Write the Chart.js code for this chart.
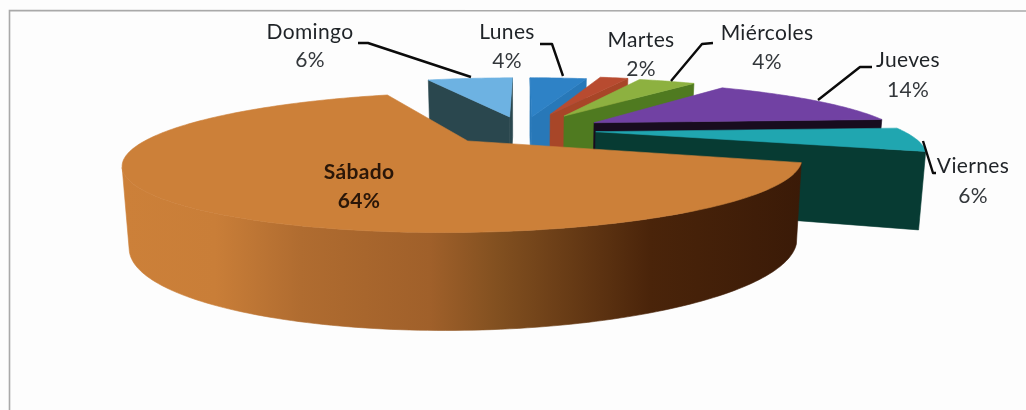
<!DOCTYPE html>
<html><head><meta charset="utf-8">
<script src="https://cdn.jsdelivr.net/npm/chart.js@4"></script>
<style>html,body{margin:0;padding:0;background:#fff}canvas{display:block;filter:blur(0.4px)}</style>
</head><body><canvas id="c" width="1026" height="410"></canvas>
<script>
const categories = ['Lunes','Martes','Miércoles','Jueves','Viernes','Sábado','Domingo'];
const percentages = [4,2,4,14,6,64,6];

const topColors  = ['#2E82C6','#B84B30','#8DB140','#7141A3','#20A6B0','#CC8039','#6DB2E2'];
const wallColors = ['#2878B8','#A84628','#4F7A20','#180C1E','#073B33','#000000','#2A474E'];
const explode = [40,50,48,44,38,40,40];
const sabadoWallStops = [[0,'#CC8039'],[0.134,'#C97E38'],[0.26,'#B06C30'],[0.45,'#A0602A'],[0.55,'#825020'],[0.775,'#4A240A'],[1,'#3A1A07']];
// painter's order, far to near
const drawOrder = [6,0,1,2,3,4,5];

const labelPos = [[507,32,61],[641,40,69],[767,33,62],[908,60,90],[973,166,196],[359,172,201],[310,32,60]];
const leaders = [
 [[540,44],[552,44],[563,76]],
 [[713,43],[702,44],[671,81]],
 [[872,67],[860,67],[818,100]],
 [[923,141],[933,173],[936,173]],
 [[358,43],[368,43],[471,77]]
];
const cam = {x0:523,y0:130,sx:306,sy:57,k:0.29,depth:73,depthPow:0.7,shrink:0.018};

function project(x,y,z){
  const w=1+cam.k*y, wx=w*(1+cam.shrink*z);
  return [cam.x0+cam.sx*x/wx, cam.y0-cam.sy*y/w+cam.depth*z/Math.pow(w,cam.depthPow)];
}
function polygon(ctx,pts){
  ctx.beginPath();
  pts.forEach((p,i)=>i?ctx.lineTo(p[0],p[1]):ctx.moveTo(p[0],p[1]));
  ctx.closePath();
}
function area(q){
  let s=0;
  for(let i=0;i<q.length;i++){const a=q[i],b=q[(i+1)%q.length];s+=a[0]*b[1]-b[0]*a[1];}
  return s;
}
function paintSlice(ctx,el,i){
  const R=el.outerRadius, off=el.options.offset/R, s=el.startAngle, e=el.endAngle, mid=(s+e)/2;
  const ox=Math.cos(mid)*off, oy=-Math.sin(mid)*off;
  const n=Math.max(4,Math.ceil((e-s)/0.02));
  const world=[];
  for(let j=0;j<=n;j++){const a=s+(e-s)*j/n;world.push([ox+Math.cos(a),oy-Math.sin(a)]);}
  const top=world.map(p=>project(p[0],p[1],0));
  const bot=world.map(p=>project(p[0],p[1],1));
  const apexT=project(ox,oy,0), apexB=project(ox,oy,1);
  let wallFill=wallColors[i];
  if(categories[i]==='Sábado'){
    const g=ctx.createLinearGradient(124,0,803,0);
    sabadoWallStops.forEach(t=>g.addColorStop(t[0],t[1]));
    wallFill=g;
  }
  ctx.fillStyle=wallFill; ctx.strokeStyle=wallFill; ctx.lineWidth=0.6; ctx.lineJoin='round';
  const f1=[apexT,top[0],bot[0],apexB], f2=[top[n],apexT,apexB,bot[n]];
  [f1,f2].forEach(q=>{ if(area(q)<0){polygon(ctx,q);ctx.fill();ctx.stroke();} });
  let run=null;
  const flush=()=>{ if(run){const pts=[];for(let j=run[0];j<=run[1];j++)pts.push(top[j]);for(let j=run[1];j>=run[0];j--)pts.push(bot[j]);polygon(ctx,pts);ctx.fill();ctx.stroke();run=null;} };
  for(let j=0;j<n;j++){
    const vis=area([top[j],top[j+1],bot[j+1],bot[j]])<0;
    if(vis){ if(run) run[1]=j+1; else run=[j,j+1]; } else flush();
  }
  flush();
  ctx.fillStyle=el.options.backgroundColor; ctx.strokeStyle=el.options.backgroundColor;
  polygon(ctx,[apexT].concat(top)); ctx.fill(); ctx.stroke();
}

const pie3d={
  id:'pie3d',
  beforeDraw(chart){
    const ctx=chart.ctx;
    ctx.save();
    ctx.fillStyle='#fdfdfd';ctx.fillRect(0,0,1026,410);
    ctx.strokeStyle='#a9a9a9';ctx.lineWidth=1.6;
    ctx.beginPath();ctx.moveTo(9.5,410);ctx.lineTo(9.5,10.5);ctx.lineTo(1026,11);ctx.stroke();
    ctx.restore();
  },
  beforeDatasetsDraw(chart){
    const ctx=chart.ctx, arcs=chart.getDatasetMeta(0).data;
    ctx.save();
    drawOrder.forEach(i=>paintSlice(ctx,arcs[i],i));
    ctx.strokeStyle='#0b0b0b';ctx.lineWidth=2.4;ctx.lineJoin='round';
    leaders.forEach(l=>{ctx.beginPath();l.forEach((p,j)=>j?ctx.lineTo(p[0],p[1]):ctx.moveTo(p[0],p[1]));ctx.stroke();});
    ctx.textAlign='center';ctx.textBaseline='middle';
    ctx.letterSpacing='0.35px';
    categories.forEach((c,i)=>{
      const bold=c==='Sábado', p=labelPos[i];
      ctx.font=(bold?'bold ':'')+'21px Lato';
      ctx.fillStyle=bold?'#2a1608':'#1f2327';
      ctx.fillText(c,p[0],p[1]);
      ctx.fillStyle=bold?'#2a1608':'#33373b';
      ctx.fillText(percentages[i]+'%',p[0],p[2]);
    });
    ctx.restore();
    return false;
  }
};

new Chart(document.getElementById('c'),{
  type:'pie',
  data:{labels:categories,datasets:[{data:percentages,backgroundColor:topColors,borderWidth:0,offset:explode}]},
  options:{responsive:false,animation:false,radius:160,rotation:0,
    plugins:{legend:{display:false},tooltip:{enabled:false}}},
  plugins:[pie3d]
});
</script></body></html>
